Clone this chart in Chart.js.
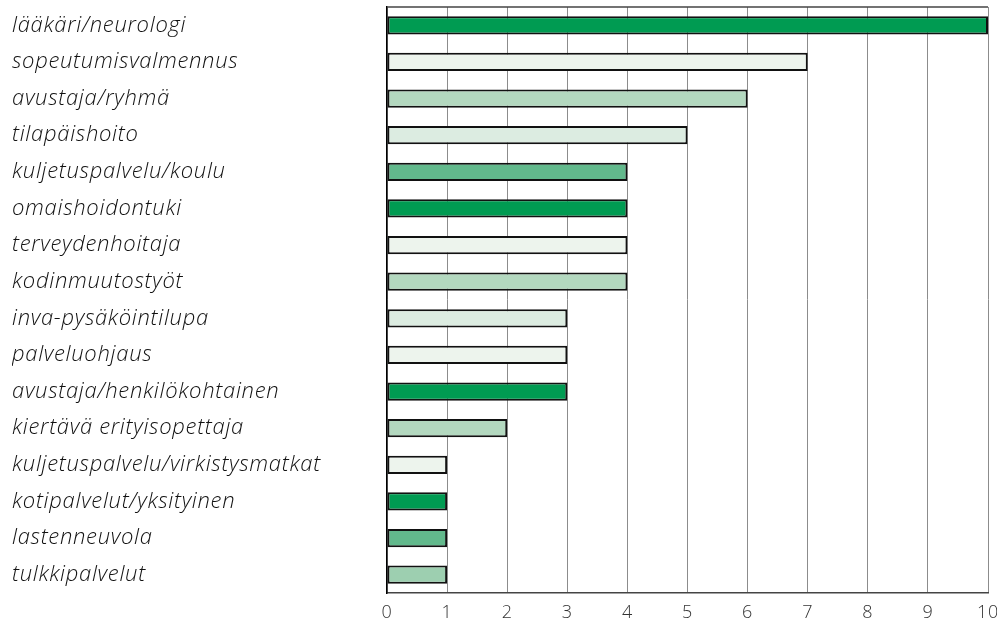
<!DOCTYPE html>
<html>
<head>
<meta charset="utf-8">
<script src="https://cdn.jsdelivr.net/npm/chart.js@4/dist/chart.umd.min.js"></script>
<style>
  html, body { margin: 0; padding: 0; background: #fff; }
  canvas { display: block; }
</style>
</head>
<body>
<canvas id="c" width="997" height="620"></canvas>
<script>
// ── data ──────────────────────────────────────────────────────────────────────
const labels = [
  'lääkäri/neurologi', 'sopeutumisvalmennus', 'avustaja/ryhmä', 'tilapäishoito',
  'kuljetuspalvelu/koulu', 'omaishoidontuki', 'terveydenhoitaja', 'kodinmuutostyöt',
  'inva-pysäköintilupa', 'palveluohjaus', 'avustaja/henkilökohtainen',
  'kiertävä erityisopettaja', 'kuljetuspalvelu/virkistysmatkat',
  'kotipalvelut/yksityinen', 'lastenneuvola', 'tulkkipalvelut',
]
const counts = [10, 7, 6, 5, 4, 4, 4, 4, 3, 3, 3, 2, 1, 1, 1, 1]
const shades = ['dark', 'pale', 'light', 'mist', 'mid', 'dark', 'pale', 'light',
                'mist', 'pale', 'dark', 'light', 'pale', 'dark', 'mid', 'soft']
const xTicks = [0, 1, 2, 3, 4, 5, 6, 7, 8, 9, 10]

const SHADE = {
  dark:  '#009b52',
  mid:   '#62b98c',
  soft:  '#9dcfb0',
  light: '#b3d8bf',
  mist:  '#dcece1',
  pale:  '#edf4ed',
}

const FONT = "'Open Sans', 'Liberation Sans', Arial, sans-serif"

// ── top frame line + slightly wider tracking for the labels ───────────────────
const frameTop = {
  id: 'frameTop',
  beforeDraw(chart) {
    chart.ctx.letterSpacing = '0.7px'
  },
  afterDraw(chart) {
    const { ctx, chartArea: a } = chart
    ctx.save()
    ctx.strokeStyle = '#444'
    ctx.lineWidth = 1.5
    ctx.beginPath()
    ctx.moveTo(a.left, a.top); ctx.lineTo(a.right, a.top)
    ctx.stroke()
    ctx.restore()
    ctx.letterSpacing = '0px'
  }
}

// ── chart ─────────────────────────────────────────────────────────────────────
new Chart(document.getElementById('c'), {
  type: 'bar',
  plugins: [frameTop],
  data: {
    labels,
    datasets: [{
      data: counts,
      backgroundColor: shades.map(s => SHADE[s]),
      borderColor: '#111',
      borderWidth: 2,
      borderSkipped: false,
      barPercentage: 0.5,
      categoryPercentage: 1,
    }],
  },
  options: {
    indexAxis: 'y',
    responsive: false,
    animation: false,
    layout: { padding: { top: 7, left: 12, right: 9, bottom: 0 } },
    plugins: { legend: { display: false }, tooltip: { enabled: false } },
    scales: {
      x: {
        min: 0, max: 10,
        afterBuildTicks: ax => { ax.ticks = xTicks.map(v => ({ value: v })) },
        afterFit: ax => { ax.height = 27; ax.paddingRight = 0; ax.paddingLeft = 0 },
        ticks: { color: '#333', font: { family: FONT, size: 18, weight: 300 }, padding: 9 },
        grid: { color: '#8c8c8c', lineWidth: 1, drawTicks: false },
        border: { color: '#444', width: 1.5 },
      },
      y: {
        afterFit: ax => { ax.width = 375; ax.paddingTop = 0; ax.paddingBottom = 0 },
        ticks: {
          crossAlign: 'far',
          color: '#111',
          font: { family: FONT, size: 22, style: 'italic', weight: 300 },
        },
        grid: { display: false, drawTicks: false },
        border: { color: '#000', width: 1.5 },
      },
    },
  },
})
</script>
</body>
</html>
